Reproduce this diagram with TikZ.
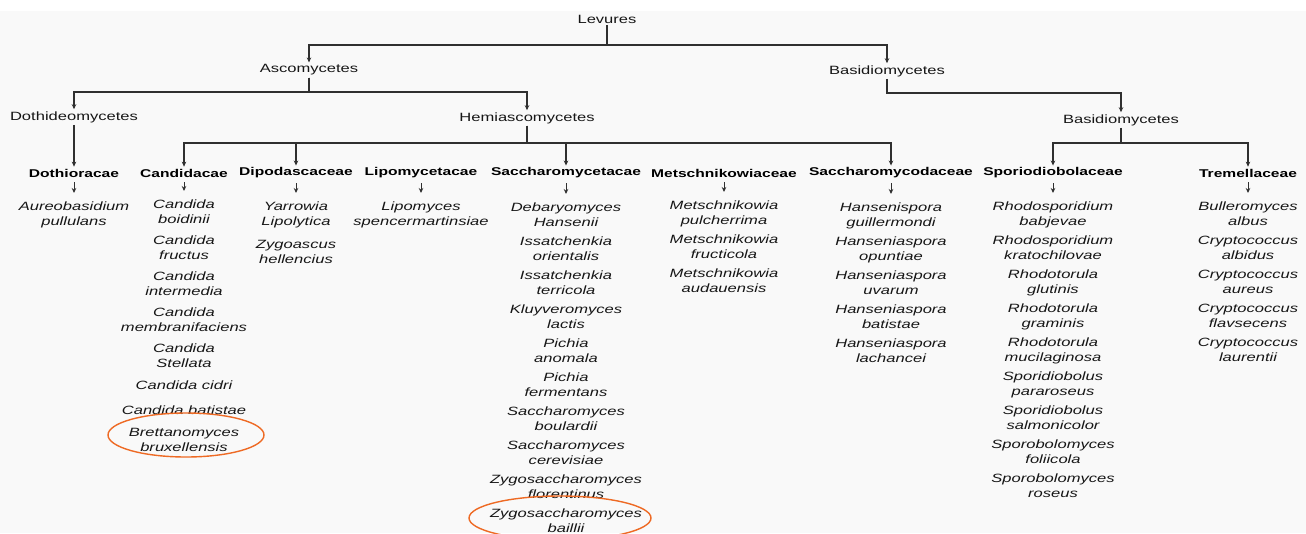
\documentclass[tikz,border=0pt]{standalone}
\usepackage{fontspec}
\setmainfont{Liberation Sans}[FakeStretch=1.38]
\usepackage{xcolor}
\usetikzlibrary{arrows.meta}
\definecolor{ink}{HTML}{161616}
\definecolor{wire}{HTML}{303030}
\definecolor{ring}{HTML}{EE6A24}
\tikzset{
  head/.style={font=\fontsize{12}{15}\selectfont, text=ink, inner sep=2pt},
  fam/.style={font=\fontsize{11.3}{14}\selectfont\bfseries, text=black, inner sep=2pt},
  spec/.style={font=\fontsize{12}{15}\selectfont\itshape, text=ink, align=center, anchor=north, inner sep=0pt},
  link/.style={draw=wire, line width=1.1pt, ->},
  tick/.style={draw=wire, line width=0.9pt, ->, shorten <=3pt, shorten >=9pt},
}
\begin{document}
\begin{tikzpicture}[x=1pt,y=-1pt,>={Stealth[length=5pt,width=4.5pt]}]
			\useasboundingbox (0,0) rectangle (1306,533);
			\clip (0,0) rectangle (1306,533);
			\fill[black!2.5] (0,11) rectangle (1306,533);
			% levels
			\node[head] (lev) at(607,19) {Levures};
			\node[head] (asc) at(309,70) {Ascomycetes};
			\node[head] (bas) at(887,71) {Basidiomycetes};
			\node[head] (doth) at(74,117) {Dothideomycetes};
			\node[head] (hemi) at(527,118) {Hemiascomycetes};
			\node[head] (basb) at(1121,120) {Basidiomycetes};
			% families
			\node[fam] (fdoth) at(74,173) {Dothioracae};
			\node[fam] (fcand) at(184,173) {Candidacae};
			\node[fam] (fdipo) at(296,173) {Dipodascaceae};
			\node[fam] (flipo) at(421,173) {Lipomycetacae};
			\node[fam] (fsacc) at(566,173) {Saccharomycetacae};
			\node[fam] (fmets) at(724,173) {Metschnikowiaceae};
			\node[fam] (fsaco) at(891,173) {Saccharomycodaceae};
			\node[fam] (fspor) at(1053,173) {Sporiodiobolaceae};
			\node[fam] (ftrem) at(1248,173) {Tremellaceae};
			% species
			\node[spec] (sdoth) at(74,202) {Aureobasidium\\pullulans};
			\node[spec] (scand) at(184,200) {Candida\\boidinii\\[6pt]Candida\\fructus\\[6pt]Candida\\intermedia\\[6pt]Candida\\membranifaciens\\[6pt]Candida\\Stellata\\[7pt]Candida cidri\\[10pt]Candida batistae\\[7pt]Brettanomyces\\bruxellensis};
			\node[spec] (sdipo) at(296,202) {Yarrowia\\Lipolytica\\[8pt]Zygoascus\\hellencius};
			\node[spec] (slipo) at(421,202) {Lipomyces\\spencermartinsiae};
			\node[spec] (ssacc) at(566,203) {Debaryomyces\\Hansenii\\[4pt]Issatchenkia\\orientalis\\[4pt]Issatchenkia\\terricola\\[4pt]Kluyveromyces\\lactis\\[4pt]Pichia\\anomala\\[4pt]Pichia\\fermentans\\[4pt]Saccharomyces\\boulardii\\[4pt]Saccharomyces\\cerevisiae\\[4pt]Zygosaccharomyces\\florentinus\\[4pt]Zygosaccharomyces\\baillii};
			\node[spec] (smets) at(724,201) {Metschnikowia\\pulcherrima\\[4pt]Metschnikowia\\fructicola\\[4pt]Metschnikowia\\audauensis};
			\node[spec] (ssaco) at(891,203) {Hansenispora\\guillermondi\\[4pt]Hanseniaspora\\opuntiae\\[4pt]Hanseniaspora\\uvarum\\[4pt]Hanseniaspora\\batistae\\[4pt]Hanseniaspora\\lachancei};
			\node[spec] (sspor) at(1053,202) {Rhodosporidium\\babjevae\\[4pt]Rhodosporidium\\kratochilovae\\[4pt]Rhodotorula\\glutinis\\[4pt]Rhodotorula\\graminis\\[4pt]Rhodotorula\\mucilaginosa\\[4pt]Sporidiobolus\\pararoseus\\[4pt]Sporidiobolus\\salmonicolor\\[4pt]Sporobolomyces\\foliicola\\[4pt]Sporobolomyces\\roseus};
			\node[spec] (strem) at(1248,202) {Bulleromyces\\albus\\[4pt]Cryptococcus\\albidus\\[4pt]Cryptococcus\\aureus\\[4pt]Cryptococcus\\flavsecens\\[4pt]Cryptococcus\\laurentii};
			% tree
			\draw[link] (lev.south) |- (asc.north |- 0,45) -- (asc.north);
			\draw[link] (lev.south) |- (bas.north |- 0,45) -- (bas.north);
			\draw[link] (asc.south) |- (doth.north |- 0,92) -- (doth.north);
			\draw[link] (asc.south) |- (hemi.north |- 0,92) -- (hemi.north);
			\draw[link] (bas.south) |- (basb.north |- 0,93) -- (basb.north);
			\draw[link] (doth.south) -- (fdoth.north);
			\draw[link] (hemi.south) |- (fcand.north |- 0,143) -- (fcand.north);
			\draw[link] (hemi.south) |- (fdipo.north |- 0,143) -- (fdipo.north);
			\draw[link] (hemi.south) |- (fsacc.north |- 0,143) -- (fsacc.north);
			\draw[link] (hemi.south) |- (fsaco.north |- 0,143) -- (fsaco.north);
			\draw[link] (basb.south) |- (fspor.north |- 0,143) -- (fspor.north);
			\draw[link] (basb.south) |- (ftrem.north |- 0,143) -- (ftrem.north);
			% family to species
			\draw[tick] (fdoth.south) -- (sdoth.north);
			\draw[tick] (fcand.south) -- (scand.north);
			\draw[tick] (fdipo.south) -- (sdipo.north);
			\draw[tick] (flipo.south) -- (slipo.north);
			\draw[tick] (fsacc.south) -- (ssacc.north);
			\draw[tick] (fmets.south) -- (smets.north);
			\draw[tick] (fsaco.south) -- (ssaco.north);
			\draw[tick] (fspor.south) -- (sspor.north);
			\draw[tick] (ftrem.south) -- (strem.north);
			% marks
			\draw[ring,line width=1.4pt] (186,435) ellipse (78 and 22);
			\draw[ring,line width=1.4pt] (560,518) ellipse (91 and 22);
		\end{tikzpicture}
\end{document}
